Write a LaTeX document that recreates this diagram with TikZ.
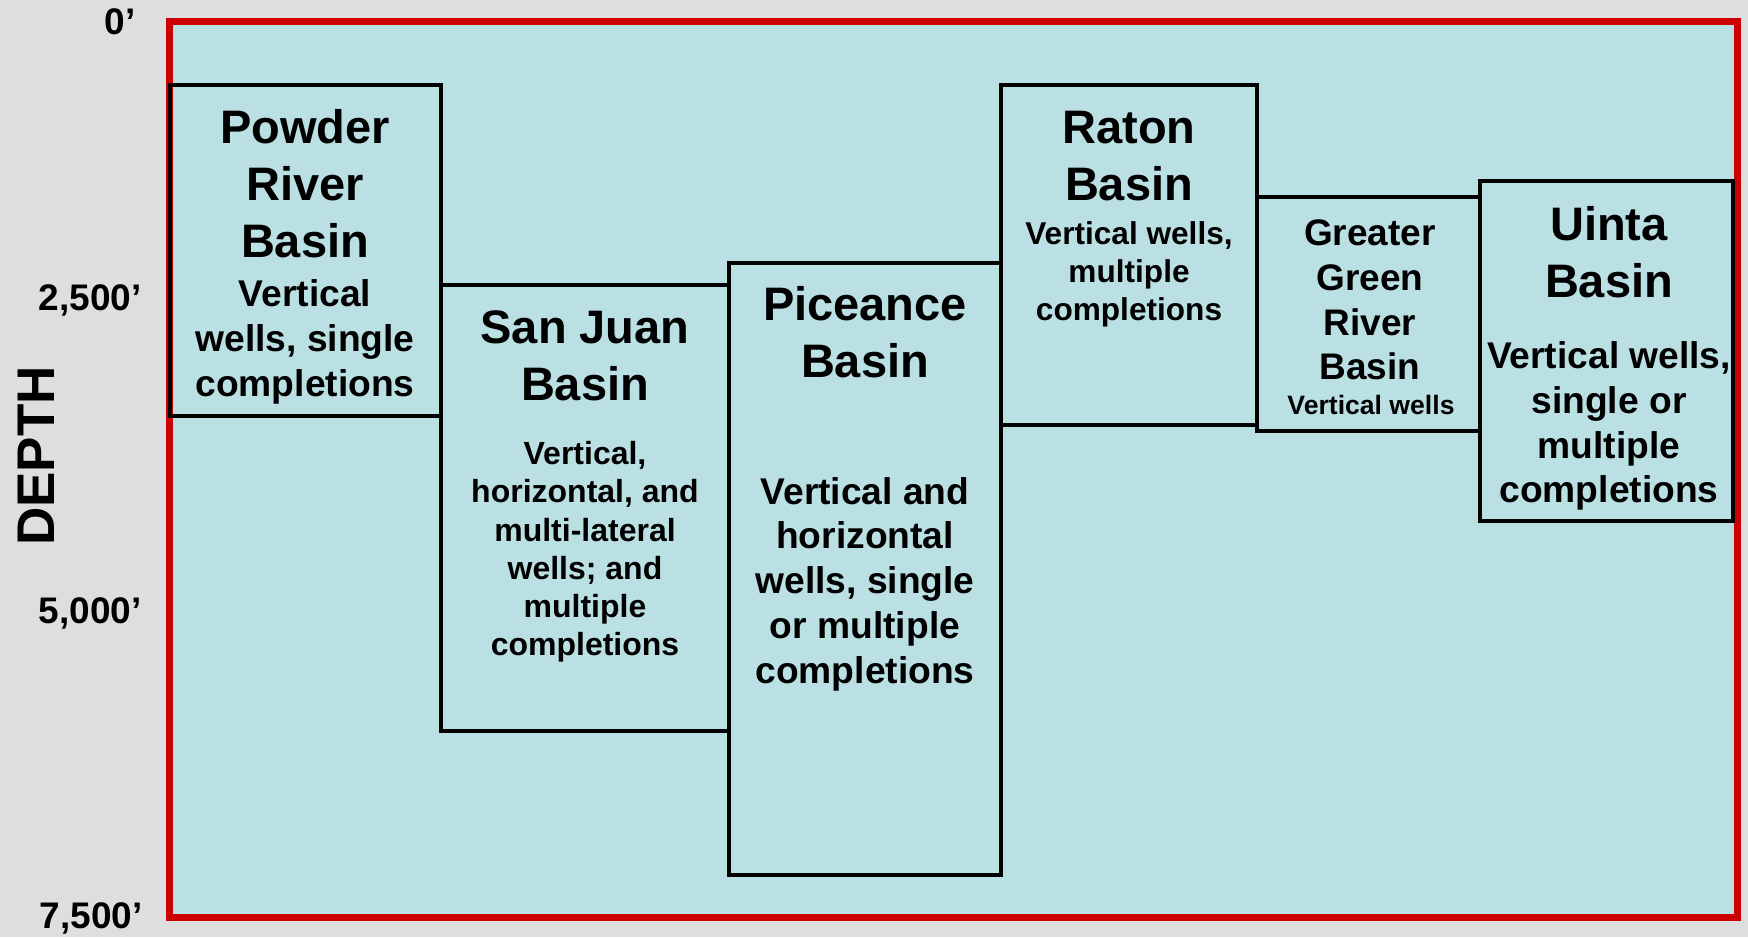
\documentclass[tikz,border=0pt]{standalone}
\usepackage{fontspec}
\setmainfont{Liberation Sans}
\definecolor{bggray}{HTML}{DEDEDE}
\definecolor{panel}{HTML}{BBE0E3}
\definecolor{framered}{HTML}{CC0000}
\begin{document}
\begin{tikzpicture}[x=0.5pt,y=-0.5pt,
  boxline/.style={draw=black,line width=1.6pt},
  txt/.style={inner sep=0pt,align=center},
  ttl/.style={txt,font=\fontsize{23.5}{28.5}\selectfont\bfseries},
  bodyL/.style={txt,font=\fontsize{18.6}{22.4}\selectfont\bfseries},
  bodyS/.style={txt,font=\fontsize{16}{19.1}\selectfont\bfseries},
  axl/.style={inner sep=0pt,anchor=east,font=\fontsize{18.5}{22}\selectfont\bfseries}]
\useasboundingbox (0,0) rectangle (1748,937);
\fill[bggray] (0,0) rectangle (1748,937);
% frame
\draw[fill=panel,draw=framered,line width=3.5pt] (169,21) rectangle (1737,917);
% basin boxes
\draw[boxline] (170,85) rectangle (441,416);
\draw[boxline] (441,285) rectangle (729,731);
\draw[boxline] (729,263) rectangle (1001,875);
\draw[boxline] (1001,85) rectangle (1257,425);
\draw[boxline] (1257,197) rectangle (1480,431);
\draw[boxline] (1480,181) rectangle (1733,521);
% texts
\node[ttl] (prT) at (305,184) {Powder\\River\\Basin};
\node[bodyL] (prB) at (305,342) {Vertical\\wells, single\\completions};
\node[ttl] (sjT) at (585,356) {San Juan\\Basin};
\node[bodyS] (sjB) at (585,552) {Vertical,\\horizontal, and\\multi-lateral\\wells; and\\multiple\\completions};
\node[ttl] (piT) at (865,332) {Piceance\\Basin};
\node[bodyL] (piB) at (865,584) {Vertical and\\horizontal\\wells, single\\or multiple\\completions};
\node[ttl] (raT) at (1129,156) {Raton\\Basin};
\node[txt,font=\fontsize{15.8}{19}\selectfont\bfseries] (raB) at (1129,274) {Vertical wells,\\multiple\\completions};
\node[txt,font=\fontsize{18.5}{22.3}\selectfont\bfseries] (ggT) at (1370,300) {Greater\\Green\\River\\Basin};
\node[txt,font=\fontsize{13.3}{16}\selectfont\bfseries] (ggB) at (1371,405) {Vertical wells};
\node[ttl] (uiT) at (1609,252) {Uinta\\Basin};
\node[bodyL] (uiB) at (1609,426) {Vertical wells,\\single or\\multiple\\completions};
% axis
\node[axl] (d0) at (136,22) {0’};
\node[axl] (d1) at (142,300) {2,500’};
\node[axl] (d2) at (142,613) {5,000’};
\node[axl] (d3) at (143,918) {7,500’};
\node[inner sep=0pt,rotate=90,font=\fontsize{26.5}{30}\selectfont\bfseries] (depth) at (36,456) {DEPTH};
\end{tikzpicture}
\end{document}
